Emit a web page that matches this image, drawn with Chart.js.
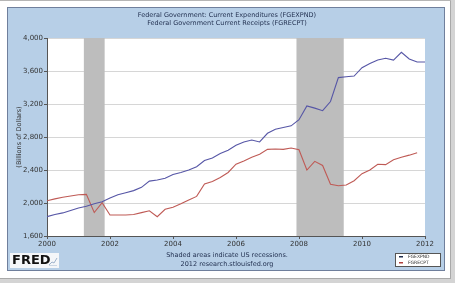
<!DOCTYPE html>
<html>
<head>
<meta charset="utf-8">
<script src="https://cdn.jsdelivr.net/npm/chart.js@4"></script>
<style>
    body { margin: 0; background: #fff; }
    #wrap { width: 455px; height: 283px; position: relative; }
</style>
</head>
<body>
<div id="wrap"><canvas id="chart"></canvas></div>
<script>
/* ------------------------------- Data -------------------------------*/

var startYear = 2000;                       // перший квартал ряду (2000 Q1)
var expenditures = [                        // FGEXPND, млрд доларів, поквартально
    1834, 1860, 1880, 1910, 1940, 1960, 1990, 2016,
    2060, 2100, 2125, 2150, 2190, 2265, 2279, 2300,
    2345, 2370, 2400, 2440, 2515, 2545, 2600, 2640,
    2700, 2740, 2764, 2740, 2845, 2893, 2915, 2935,
    3010, 3176, 3150, 3119, 3230, 3520, 3530, 3539,
    3640, 3690, 3733, 3754, 3733, 3826, 3745, 3709,
    3709
];
var receipts = [                            // FGRECPT, млрд доларів, поквартально
    2028, 2050, 2070, 2085, 2100, 2105, 1885, 2004,
    1855, 1855, 1855, 1860, 1883, 1905, 1834, 1924,
    1948, 1990, 2036, 2080, 2230, 2260, 2310, 2370,
    2470, 2510, 2555, 2590, 2650, 2655, 2650, 2667,
    2645, 2400, 2505, 2455, 2227, 2210, 2218, 2270,
    2355, 2400, 2470, 2465, 2525, 2555, 2580, 2610
];
var recessionStarts = [2001.17, 2007.92];
var recessionEnds = [2001.83, 2009.42];
var xTicks = [2000, 2002, 2004, 2006, 2008, 2010, 2012];
var yTicks = [1600, 2000, 2400, 2800, 3200, 3600, 4000];

var titleLines = [
    "Federal Government: Current Expenditures (FGEXPND)",
    "Federal Government Current Receipts (FGRECPT)"
];
var footerLines = [
    "Shaded areas indicate US recessions.",
    "2012 research.stlouisfed.org"
];

function toPoints(values) {
    return values.map(function (v, i) {
        return { x: startYear + i / 4, y: v };
    });
}

function formatThousands(v) {
    return String(v).replace(/\B(?=(\d{3})+(?!\d))/g, ",");
}

var FONT = "DejaVu Sans";

/* ------------------------------- Plugins -------------------------------*/

var framePlugin = {                         // рамка, блакитна панель, заголовок, підписи
    id: 'frame',
    beforeDraw: function (chart) {
        var ctx = chart.ctx;
        var a = chart.chartArea;
        ctx.save();
        ctx.fillStyle = '#fff';
        ctx.fillRect(0, 0, 455, 283);

        ctx.fillStyle = '#d4d4d4';          // тінь сторінки
        ctx.fillRect(0, 278, 455, 5);
        ctx.fillRect(450, 0, 5, 283);
        ctx.fillStyle = '#a9a9a9';
        ctx.fillRect(450, 0, 1, 279);
        ctx.fillRect(0, 278, 451, 1);
        ctx.fillStyle = '#b5b5b5';
        ctx.fillRect(0, 0, 451, 1);

        ctx.fillStyle = '#b7cfe7';
        ctx.fillRect(8, 8, 437, 263);
        ctx.strokeStyle = '#6f7f9c';
        ctx.lineWidth = 1;
        ctx.strokeRect(7.5, 7.5, 437, 263);

        ctx.fillStyle = '#fff';
        ctx.fillRect(a.left, a.top, a.right - a.left, a.bottom - a.top);

        ctx.fillStyle = '#1f2d4d';
        ctx.font = '6.5px "' + FONT + '"';
        ctx.textAlign = 'center';
        ctx.textBaseline = 'middle';
        ctx.fillText(titleLines[0], 227, 15);
        ctx.fillText(titleLines[1], 227, 23.5);
        ctx.fillText(footerLines[0], 227, 255.5);
        ctx.fillText(footerLines[1], 227, 264.5);

        ctx.save();
        ctx.translate(19, 137);
        ctx.rotate(-Math.PI / 2);
        ctx.fillStyle = '#333';
        ctx.font = '6.5px "' + FONT + '"';
        ctx.fillText("(Billions of Dollars)", 0, 0);
        ctx.restore();

        // логотип FRED
        ctx.fillStyle = '#f4f6f9';
        ctx.fillRect(10, 253, 49, 15);
        ctx.fillStyle = '#111';
        ctx.font = 'bold 13px "' + FONT + '"';
        ctx.textAlign = 'left';
        ctx.fillText("FRED", 12, 261);
        ctx.strokeStyle = '#9fb3cc';
        ctx.beginPath();
        ctx.moveTo(49, 265); ctx.lineTo(52, 262); ctx.lineTo(54, 263); ctx.lineTo(57, 258);
        ctx.stroke();
        ctx.fillStyle = '#cbd6e3';
        ctx.fillRect(49, 265, 8, 1);

        // легенда
        ctx.fillStyle = '#fff';
        ctx.fillRect(395, 253, 46, 14);
        ctx.strokeStyle = '#555';
        ctx.strokeRect(395.5, 253.5, 45, 13);
        ctx.fillStyle = '#1f2d4d';
        ctx.fillRect(399, 256, 4, 1.5);
        ctx.fillStyle = '#b0413e';
        ctx.fillRect(399, 262, 4, 1.5);
        ctx.fillStyle = '#333';
        ctx.font = '4.5px "' + FONT + '"';
        ctx.fillText("FGEXPND", 408, 257);
        ctx.fillText("FGRECPT", 408, 263);
        ctx.restore();
    }
};

var recessionPlugin = {                     // сірі смуги рецесій
    id: 'recessions',
    beforeDatasetsDraw: function (chart) {
        var ctx = chart.ctx;
        var x = chart.scales.x;
        var a = chart.chartArea;
        ctx.save();
        ctx.fillStyle = '#bdbdbd';
        for (let i = 0; i < recessionStarts.length; i++) {
            var x0 = x.getPixelForValue(recessionStarts[i]);
            var x1 = x.getPixelForValue(recessionEnds[i]);
            ctx.fillRect(x0, a.top, x1 - x0, a.bottom - a.top);
        }
        ctx.restore();
    }
};

/* ------------------------------- Chart -------------------------------*/

new Chart(document.getElementById('chart'), {
    type: 'line',
    data: {
        datasets: [{
            data: toPoints(expenditures),
            borderColor: '#5656a6',
            borderWidth: 1.1,
            pointRadius: 0,
            tension: 0
        }, {
            data: toPoints(receipts),
            borderColor: '#bf5a55',
            borderWidth: 1.1,
            pointRadius: 0,
            tension: 0
        }]
    },
    options: {
        responsive: true,
        maintainAspectRatio: false,
        animation: false,
        layout: { padding: { left: 7, top: 38, right: 30, bottom: 0 } },
        plugins: {
            legend: { display: false },
            tooltip: { enabled: false }
        },
        scales: {
            x: {
                type: 'linear',
                min: 2000,
                max: 2012,
                afterBuildTicks: function (scale) {
                    scale.ticks = xTicks.map(function (v) { return { value: v }; });
                },
                afterFit: function (scale) { scale.height = 47; },
                grid: { drawOnChartArea: false, tickLength: 3, tickColor: '#555' },
                border: { color: '#555' },
                ticks: {
                    padding: 1,
                    maxRotation: 0,
                    color: '#333',
                    font: { family: FONT, size: 7 },
                    callback: function (v) { return String(v); }
                }
            },
            y: {
                min: 1600,
                max: 4000,
                afterBuildTicks: function (scale) {
                    scale.ticks = yTicks.map(function (v) { return { value: v }; });
                },
                afterFit: function (scale) { scale.width = 40; },
                grid: { color: '#d6d6d6', tickLength: 3, tickColor: '#555' },
                border: { color: '#555' },
                ticks: {
                    padding: 1,
                    color: '#333',
                    font: { family: FONT, size: 7 },
                    callback: function (v) { return formatThousands(v); }
                }
            }
        }
    },
    plugins: [framePlugin, recessionPlugin]
});
</script>
</body>
</html>
